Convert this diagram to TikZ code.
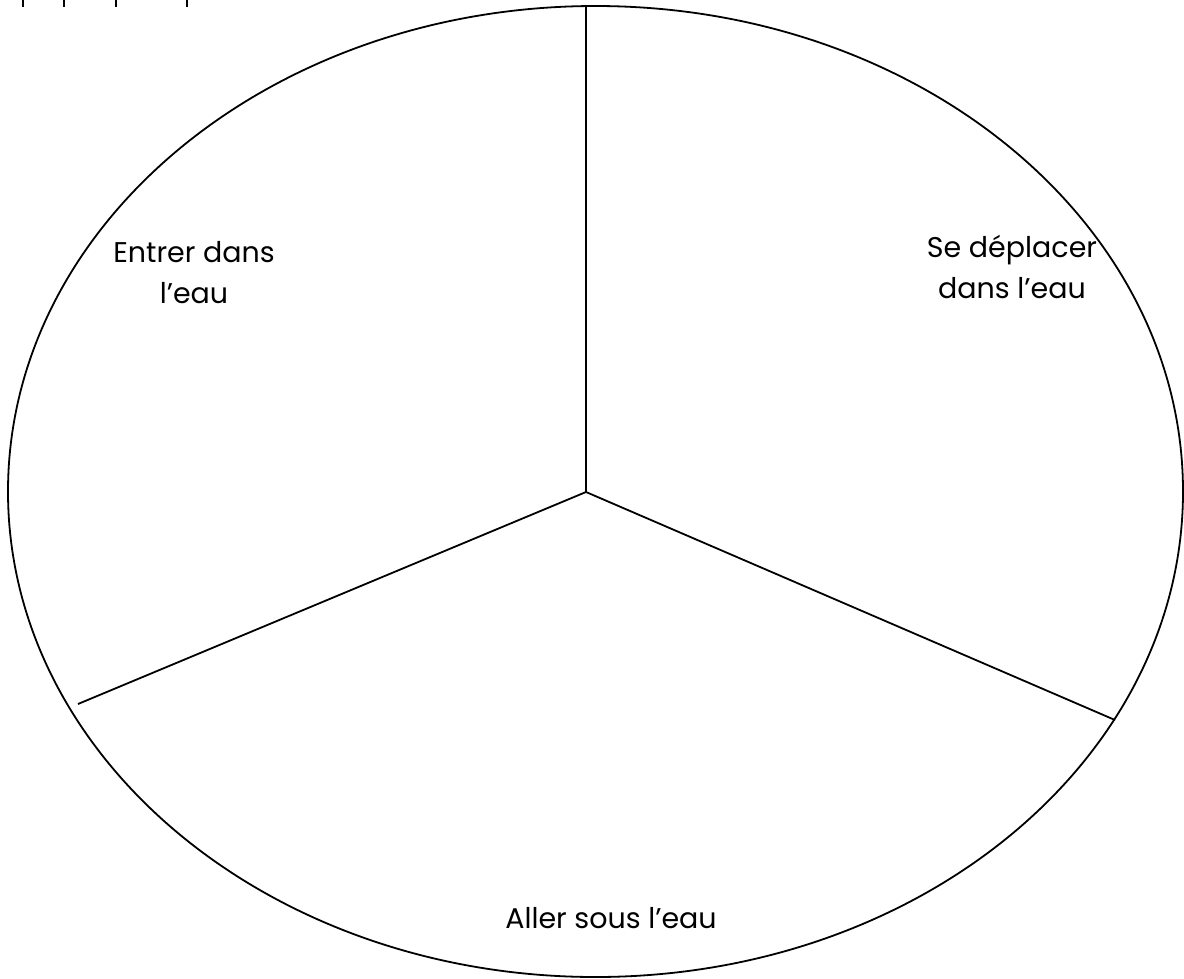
\documentclass[tikz,border=0pt]{standalone}
\usepackage{fontspec}
\setmainfont{Poppins}
\usetikzlibrary{shapes.geometric}
\begin{document}
\begin{tikzpicture}[x=1pt,y=-1pt,
  line/.style={line width=1.8pt,black},
  lbl/.style={font=\fontsize{28.5}{40}\selectfont,align=center,inner sep=0pt},
  tick/.style={line width=1.8pt,black}]
\useasboundingbox (0,0) rectangle (1184,978);
\node[draw,line width=1.8pt,ellipse,inner sep=0pt,outer sep=0pt,
      minimum width=1175pt,minimum height=971pt] (ring) at (595.5,491.5) {};
\coordinate (c) at (586,492);
\coordinate (top) at (586,6);
\coordinate (left) at (78,704);
\coordinate (right) at (1115,720);
\draw[line] (c) -- (top);
\draw[line] (c) -- (left);
\draw[line] (c) -- (right);
\node[lbl,anchor=base] (a) at (194,262) {Entrer dans};
\node[lbl,anchor=base] (a2) at (194,303) {l’eau};
\node[lbl,anchor=base] (b) at (1012,257) {Se déplacer};
\node[lbl,anchor=base] (b2) at (1012,298) {dans l’eau};
\node[lbl,anchor=base] (d) at (611,928) {Aller sous l’eau};
\foreach \x in {23,64,116,187} \draw[tick] (\x,0) -- (\x,7);
\end{tikzpicture}
\end{document}
